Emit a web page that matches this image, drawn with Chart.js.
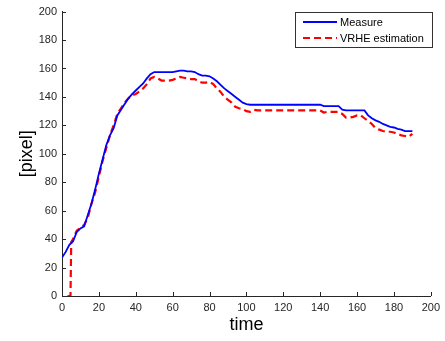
<!DOCTYPE html>
<html>
<head>
<meta charset="utf-8">
<script src="https://cdn.jsdelivr.net/npm/chart.js@4/dist/chart.umd.min.js"></script>
<style>
  html, body { margin: 0; padding: 0; background: #fff; }
  #wrap { width: 445px; height: 341px; }
</style>
</head>
<body>
<div id="wrap"><canvas id="chart"></canvas></div>
<script>
// ---- data ----
const measureTime = [0,2,4,6,8,10,12,14,16,18,20,22,24,26,28,30,32,34,36,38,40,42,44,46,48,50,
  52,54,56,58,60,62,64,66,68,70,72,74,76,78,80,82,84,86,88,90,92,94,96,98,100,102,104,110,120,130,
  140,142,150,152,154,160,164,166,168,170,172,174,176,178,180,182,184,186,188,190];
const measureVals = [27,31,36,38.5,45,47.5,49,57,65,75,86,96,106,113,118,127,131,135,139,142,144.5,147,149.5,153,156,157.5,
  157.5,157.5,157.5,157.5,157.5,158,158.5,158.5,158,158,157.5,156,155,155,154.5,153,151,148.5,146,144,142,140,138,136,135,134.5,134.5,134.5,134.5,134.5,
  134.5,133.5,133.5,131,130.5,130.5,130.5,127,125,123.5,122.5,121,120,119,118.5,117.5,117,116,116,116];

const estimTime = [3,4.6,5,6,8,10,12,14,16,18,20,22,24,26,28,30,32,34,36,38,40,42,44,46,48,50,
  52,54,56,58,60,62,64,66,68,70,72,74,76,78,80,82,84,86,88,90,92,94,96,98,100,102,104,106,120,130,
  140,142,144,150,152,154,156,158,160,162,164,166,168,170,172,174,176,178,180,182,184,186,188,190];
const estimVals = [0,0,38,40,46,48,50,55,65,73,84,95,104,113,120,128,132,136,139,141,142,144,146,149,153,154,
  153,151.5,151.5,151.5,152,153,154,153.5,153,152.5,152.5,151,150,150,150.5,149,146,143.5,140,138,136,133,132,131.5,130,129.5,131,130.5,130.5,130.5,
  130.5,129,129.5,129.5,128,125.5,125.5,126,127,127,125,123,121,118,117,116,115.5,115.5,115,114,113,112.5,112,114];

const xTicks = [0,20,40,60,80,100,120,140,160,180,200];
const yTicks = [0,20,40,60,80,100,120,140,160,180,200];
const seriesNames = ['Measure', 'VRHE estimation'];

const toPoints = (xs, ys) => xs.map((x, i) => ({ x: x, y: ys[i] }));

const axisColor = '#262626';
const tickFont = { family: 'Liberation Sans, Arial', size: 11 };

// inward tick marks, matlab style
const innerTicks = {
  id: 'innerTicks',
  afterDraw(chart) {
    const ctx = chart.ctx;
    const xs = chart.scales.x, ys = chart.scales.y;
    ctx.save();
    ctx.strokeStyle = axisColor;
    ctx.lineWidth = 1;
    ctx.beginPath();
    xTicks.forEach(v => {
      const px = Math.round(xs.getPixelForValue(v)) + 0.5;
      ctx.moveTo(px, ys.bottom);
      ctx.lineTo(px, ys.bottom - 4);
    });
    yTicks.forEach(v => {
      const py = Math.round(ys.getPixelForValue(v)) + 0.5;
      ctx.moveTo(xs.left, py);
      ctx.lineTo(xs.left + 4, py);
    });
    ctx.stroke();
    ctx.restore();
  }
};

// boxed legend in the top right corner
const boxLegend = {
  id: 'boxLegend',
  afterDraw(chart) {
    const ctx = chart.ctx;
    const x0 = 295, y0 = 12, w = 137, h = 35;
    ctx.save();
    ctx.fillStyle = '#fff';
    ctx.fillRect(x0, y0, w, h);
    ctx.strokeStyle = '#333';
    ctx.lineWidth = 1;
    ctx.strokeRect(x0 + 0.5, y0 + 0.5, w, h);
    ctx.font = '11px Liberation Sans, Arial';
    ctx.textBaseline = 'middle';
    chart.data.datasets.forEach((ds, i) => {
      const ly = y0 + 10 + i * 16;
      ctx.strokeStyle = ds.borderColor;
      ctx.lineWidth = 2;
      ctx.setLineDash(ds.borderDash || []);
      ctx.beginPath();
      ctx.moveTo(x0 + 8, ly);
      ctx.lineTo(x0 + 42, ly);
      ctx.stroke();
      ctx.setLineDash([]);
      ctx.fillStyle = '#000';
      ctx.fillText(ds.label, x0 + 45, ly + 1);
    });
    ctx.restore();
  }
};

new Chart(document.getElementById('chart').getContext('2d'), {
  type: 'line',
  data: {
    datasets: [
      {
        label: seriesNames[0],
        data: toPoints(measureTime, measureVals),
        borderColor: '#0000ff',
        borderWidth: 1.8,
        pointRadius: 0,
        tension: 0
      },
      {
        label: seriesNames[1],
        data: toPoints(estimTime, estimVals),
        borderColor: '#ff0000',
        borderWidth: 2.2,
        borderDash: [7, 4],
        pointRadius: 0,
        tension: 0
      }
    ]
  },
  options: {
    responsive: true,
    maintainAspectRatio: false,
    animation: false,
    layout: { padding: { left: 0, right: 12, top: 5, bottom: 0 } },
    plugins: {
      legend: { display: false },
      tooltip: { enabled: false }
    },
    scales: {
      x: {
        type: 'linear',
        min: 0, max: 200,
        afterBuildTicks: axis => { axis.ticks = xTicks.map(v => ({ value: v })); },
        afterFit: axis => { axis.height = 45; },
        grid: { display: false, drawTicks: false },
        border: { display: true, color: axisColor, width: 1 },
        ticks: { color: axisColor, font: tickFont, padding: 5, maxRotation: 0 },
        title: {
          display: true, text: 'time', color: '#000',
          font: { family: 'Liberation Sans, Arial', size: 18 },
          padding: { top: 0, bottom: 5 }
        }
      },
      y: {
        min: 0, max: 200,
        afterBuildTicks: axis => { axis.ticks = yTicks.map(v => ({ value: v })); },
        afterFit: axis => { axis.width = 62; },
        grid: { display: false, drawTicks: false },
        border: { display: true, color: axisColor, width: 1 },
        ticks: { color: axisColor, font: tickFont, padding: 5 },
        title: {
          display: true, text: '[pixel]', color: '#000',
          font: { family: 'Liberation Sans, Arial', size: 18 },
          padding: { top: 16, bottom: 0 }
        }
      }
    }
  },
  plugins: [innerTicks, boxLegend]
});
</script>
</body>
</html>
